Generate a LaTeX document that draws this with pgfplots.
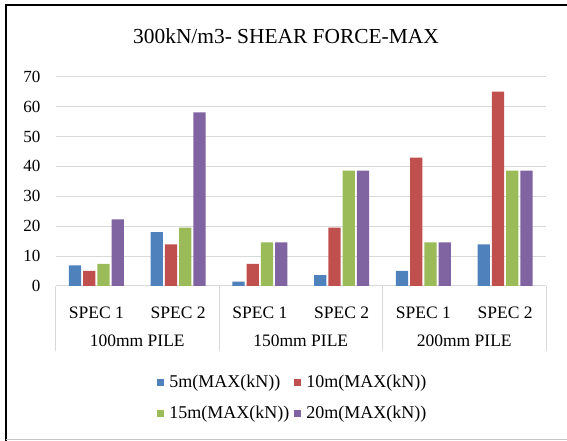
\documentclass[border=0pt]{standalone}
\usepackage{pgfplots}
\pgfplotsset{compat=1.18}
\usepackage{fontspec}
\setmainfont{Liberation Serif}
\definecolor{cblue}{HTML}{4F81BD}
\definecolor{cred}{HTML}{C0504D}
\definecolor{cgreen}{HTML}{9BBB59}
\definecolor{cpurple}{HTML}{8064A2}
\definecolor{gridgray}{HTML}{D9D9D9}
\begin{document}
\begin{tikzpicture}[x=1pt,y=1pt]
\useasboundingbox (0,0) rectangle (567,441);
\draw[black, line width=2.5pt] (6,0) -- (6,436) -- (567,436);
\draw[gridgray!80!gray, line width=1pt] (6,1.5) -- (567,1.5);
\node[font=\fontsize{21.4}{24}\selectfont] at (286,405) {300kN/m3- SHEAR FORCE-MAX};
\begin{axis}[
  at={(55.5pt,155pt)}, anchor=south west,
  scale only axis, width=490.5pt, height=209.3pt,
  xmin=-0.5, xmax=5.5, ymin=0, ymax=70,
  ybar=2pt, bar width=12.3pt,
  ytick={0,10,...,70},
  xtick={0,...,5},
  xticklabels={SPEC 1,SPEC 2,SPEC 1,SPEC 2,SPEC 1,SPEC 2},
  /pgf/number format/assume math mode=true,
  ymajorgrids, grid style={draw=gridgray, line width=1pt},
  axis x line*=bottom, axis y line*=left,
  y axis line style={draw=none},
  x axis line style={draw=gridgray, line width=1pt},
  tick style={draw=none},
  yticklabel style={font=\fontsize{17}{20}\selectfont, anchor=east, inner sep=0pt, xshift=-15pt},
  xticklabel style={font=\fontsize{17.5}{20}\selectfont, anchor=base, inner sep=0pt, yshift=-28.3pt},
  clip=false,
  legend columns=2,
  legend cell align=left,
  legend style={at={(0.484,-0.534)}, anchor=center, draw=none,
    font=\fontsize{18}{21}\selectfont, column sep=3pt, row sep=13pt},
  legend image code/.code={\fill[#1] (0pt,-3.5pt) rectangle (7pt,3.5pt);},
]
\addplot[fill=cblue, draw=none] coordinates {(0,6.9) (1,18.0) (2,1.5) (3,3.6) (4,5.1) (5,13.9)};
\addplot[fill=cred, draw=none] coordinates {(0,5.1) (1,13.9) (2,7.4) (3,19.5) (4,42.9) (5,65.0)};
\addplot[fill=cgreen, draw=none] coordinates {(0,7.4) (1,19.5) (2,14.6) (3,38.6) (4,14.6) (5,38.6)};
\addplot[fill=cpurple, draw=none] coordinates {(0,22.3) (1,58.1) (2,14.6) (3,38.6) (4,14.6) (5,38.6)};
\legend{5m(MAX(kN)),10m(MAX(kN)),15m(MAX(kN)),20m(MAX(kN))}
\draw[gridgray, line width=1pt] (axis cs:-0.5,0) -- ++(0pt,-65pt);
\draw[gridgray, line width=1pt] (axis cs:1.5,0) -- ++(0pt,-65pt);
\draw[gridgray, line width=1pt] (axis cs:3.5,0) -- ++(0pt,-65pt);
\draw[gridgray, line width=1pt] (axis cs:5.5,0) -- ++(0pt,-65pt);
\node[anchor=base, inner sep=0pt, yshift=-60pt, font=\fontsize{17.5}{20}\selectfont] at (axis cs:0.5,0) {100mm PILE};
\node[anchor=base, inner sep=0pt, yshift=-60pt, font=\fontsize{17.5}{20}\selectfont] at (axis cs:2.5,0) {150mm PILE};
\node[anchor=base, inner sep=0pt, yshift=-60pt, font=\fontsize{17.5}{20}\selectfont] at (axis cs:4.5,0) {200mm PILE};
\end{axis}
\end{tikzpicture}
\end{document}
